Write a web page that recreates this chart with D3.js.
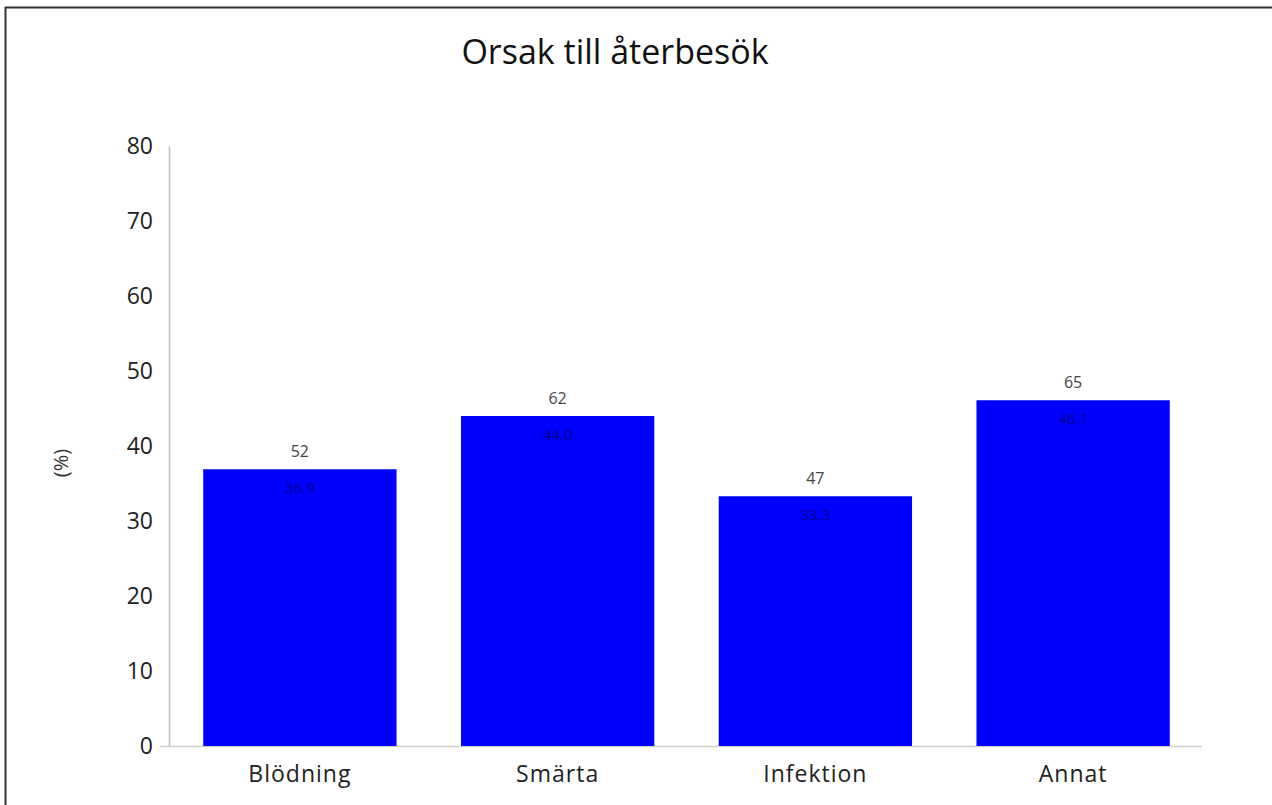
<!DOCTYPE html>
<html>
<head>
<meta charset="utf-8">
<script src="https://cdn.jsdelivr.net/npm/d3@7"></script>
<style>
html,body{margin:0;padding:0;background:#fff;}
svg{display:block;}
</style>
</head>
<body>
<svg id="chart" width="1272" height="805"></svg>
<script>
const categories = ["Blödning", "Smärta", "Infektion", "Annat"];
const percentValues = [36.9, 44.0, 33.3, 46.1];
const countLabels = ["52", "62", "47", "65"];
const percentLabels = ["36.9", "44.0", "33.3", "46.1"];
const yTicks = [0, 10, 20, 30, 40, 50, 60, 70, 80];
const titleText = "Orsak till återbesök";
const yLabelText = "(%)";

const svg = d3.select("#chart");
const font = "'Open Sans', 'Noto Sans', sans-serif";

// frame
svg.append("line").attr("x1", 5).attr("x2", 1272).attr("y1", 7.5).attr("y2", 7.5)
  .attr("stroke", "#333").attr("stroke-width", 2);
svg.append("line").attr("x1", 5.5).attr("x2", 5.5).attr("y1", 7).attr("y2", 805)
  .attr("stroke", "#333").attr("stroke-width", 2);

const x = d3.scaleBand().domain(categories).range([171, 1202])
  .paddingInner(0.25).paddingOuter(0.125);
const y = d3.scaleLinear().domain([0, 80]).range([746, 146]);

// baseline
svg.append("line").attr("x1", 160).attr("x2", 1202).attr("y1", y(0) + 0.5).attr("y2", y(0) + 0.5)
  .attr("stroke", "#d0d0d0").attr("stroke-width", 1.5);

// y axis
const yAxis = d3.axisLeft(y).tickValues(yTicks).tickSize(0).tickPadding(16);
const gy = svg.append("g").attr("transform", "translate(169,0)").call(yAxis);
gy.select(".domain").attr("stroke", "#bdbdbd").attr("stroke-width", 1.5);
gy.selectAll("text").attr("font-family", font).attr("font-size", 23).attr("fill", "#222");

// bars
svg.selectAll("rect.bar").data(categories).enter().append("rect")
  .attr("class", "bar")
  .attr("x", d => x(d))
  .attr("width", x.bandwidth())
  .attr("y", (d, i) => y(percentValues[i]))
  .attr("height", (d, i) => y(0) - y(percentValues[i]))
  .attr("fill", "#0000ff");

// count labels above bars
svg.selectAll("text.cnt").data(categories).enter().append("text")
  .attr("class", "cnt")
  .attr("x", d => x(d) + x.bandwidth() / 2)
  .attr("y", (d, i) => y(percentValues[i]) - 12)
  .attr("text-anchor", "middle")
  .attr("font-family", font).attr("font-size", 16).attr("fill", "#444")
  .text((d, i) => countLabels[i]);

// percent labels inside bars
svg.selectAll("text.pct").data(categories).enter().append("text")
  .attr("class", "pct")
  .attr("x", d => x(d) + x.bandwidth() / 2)
  .attr("y", (d, i) => y(percentValues[i]) + 24)
  .attr("text-anchor", "middle")
  .attr("font-family", font).attr("font-size", 15).attr("fill", "#000090")
  .text((d, i) => percentLabels[i]);

// x axis labels
const xAxis = d3.axisBottom(x).tickSize(0).tickPadding(20);
const gx = svg.append("g").attr("transform", `translate(0,${y(0)})`).call(xAxis);
gx.select(".domain").remove();
gx.selectAll("text").attr("font-family", font).attr("font-size", 23)
  .attr("letter-spacing", "1px").attr("fill", "#222");

// title
svg.append("text").attr("x", 615).attr("y", 64).attr("text-anchor", "middle")
  .attr("font-family", font).attr("font-size", 34).attr("fill", "#111")
  .text(titleText);

// y label
svg.append("text").attr("transform", "translate(68,463) rotate(-90)")
  .attr("text-anchor", "middle")
  .attr("font-family", font).attr("font-size", 20).attr("fill", "#333")
  .text(yLabelText);
</script>
</body>
</html>
